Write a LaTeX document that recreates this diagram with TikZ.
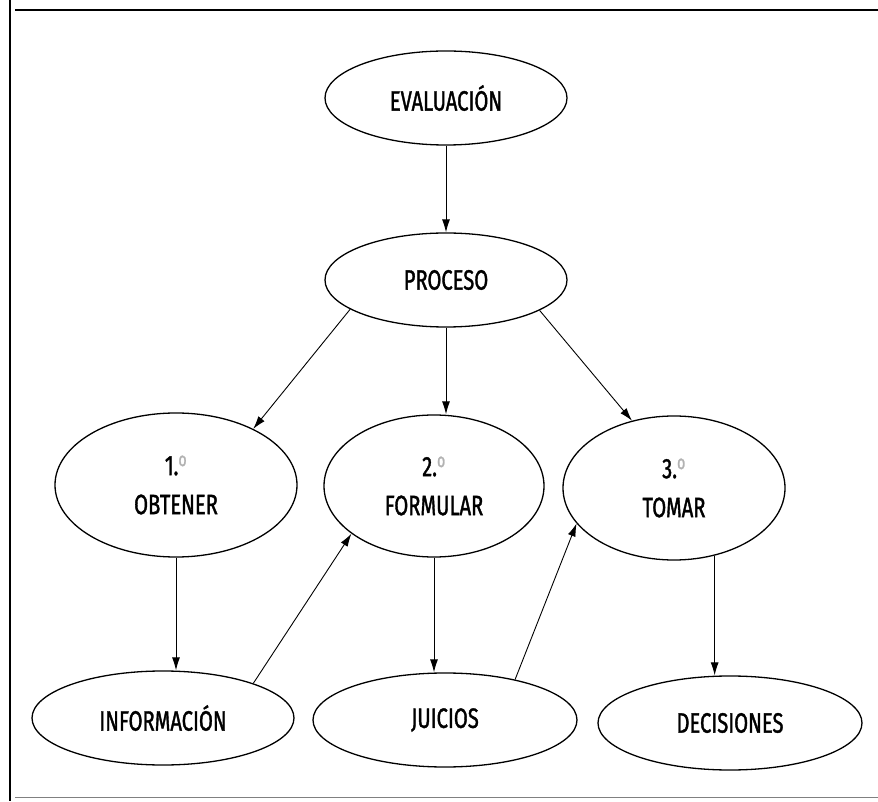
\documentclass[tikz,border=0pt]{standalone}
\usepackage{fontspec}
\setmainfont{Fira Sans}[FakeStretch=0.72,FakeBold=1.3]
\usepackage{tikz}
\usetikzlibrary{shapes.geometric}
\usetikzlibrary{arrows.meta}
\newcommand{\ordo}{\textsuperscript{\color{gray!60}o}}
\begin{document}
\begin{tikzpicture}[x=1pt,y=1pt,
  elipse/.style={ellipse,draw,line width=1.3pt,inner sep=0pt,align=center,
    font=\fontsize{28}{39}\selectfont},
  flecha/.style={-{Latex[length=13pt,width=8pt]},line width=0.9pt}]% 1pt = 1px of the scan
\useasboundingbox (0,0) rectangle (878,801);
% frame
\draw[line width=1.6pt] (15,791) -- (878,791);
\draw[line width=1.2pt] (10,781) -- (10,801) (10,781) -- (10,0);
\draw[line width=1pt,gray] (15,4) -- (878,4);
% ellipses
\node[elipse,minimum width=242pt,minimum height=94pt] (eval) at (446,703) {EVALUACIÓN};
\node[elipse,minimum width=242pt,minimum height=94pt] (proc) at (446,521) {PROCESO};
\node[elipse,minimum width=242pt,minimum height=144pt] (obt) at (176,316) {1.\ordo\\OBTENER};
\node[elipse,minimum width=220pt,minimum height=142pt] (form) at (434,315) {2.\ordo\\FORMULAR};
\node[elipse,minimum width=222pt,minimum height=144pt] (tom) at (674,313) {3.\ordo\\TOMAR};
\node[elipse,minimum width=262pt,minimum height=94pt] (info) at (163,83) {INFORMACIÓN};
\node[elipse,minimum width=264pt,minimum height=94pt] (juic) at (445,81) {JUICIOS};
\node[elipse,minimum width=264pt,minimum height=94pt] (deci) at (730,78) {DECISIONES};
% arrows
\draw[flecha] (eval.south) -- (proc.north);
\draw[flecha] (proc.197) -- (obt.36);
\draw[flecha] (proc.south) -- (proc.south |- form.north);
\draw[flecha] (proc.342) -- (tom.122);
\draw[flecha] (obt.south) -- (obt.south |- info.north);
\draw[flecha] (info.21) -- (form.210);
\draw[flecha] (form.south) -- (form.south |- juic.north);
\draw[flecha] (juic.30) -- (tom.200);
\draw[flecha] (tom.301) -- (tom.301 |- deci.north);
\end{tikzpicture}
\end{document}
